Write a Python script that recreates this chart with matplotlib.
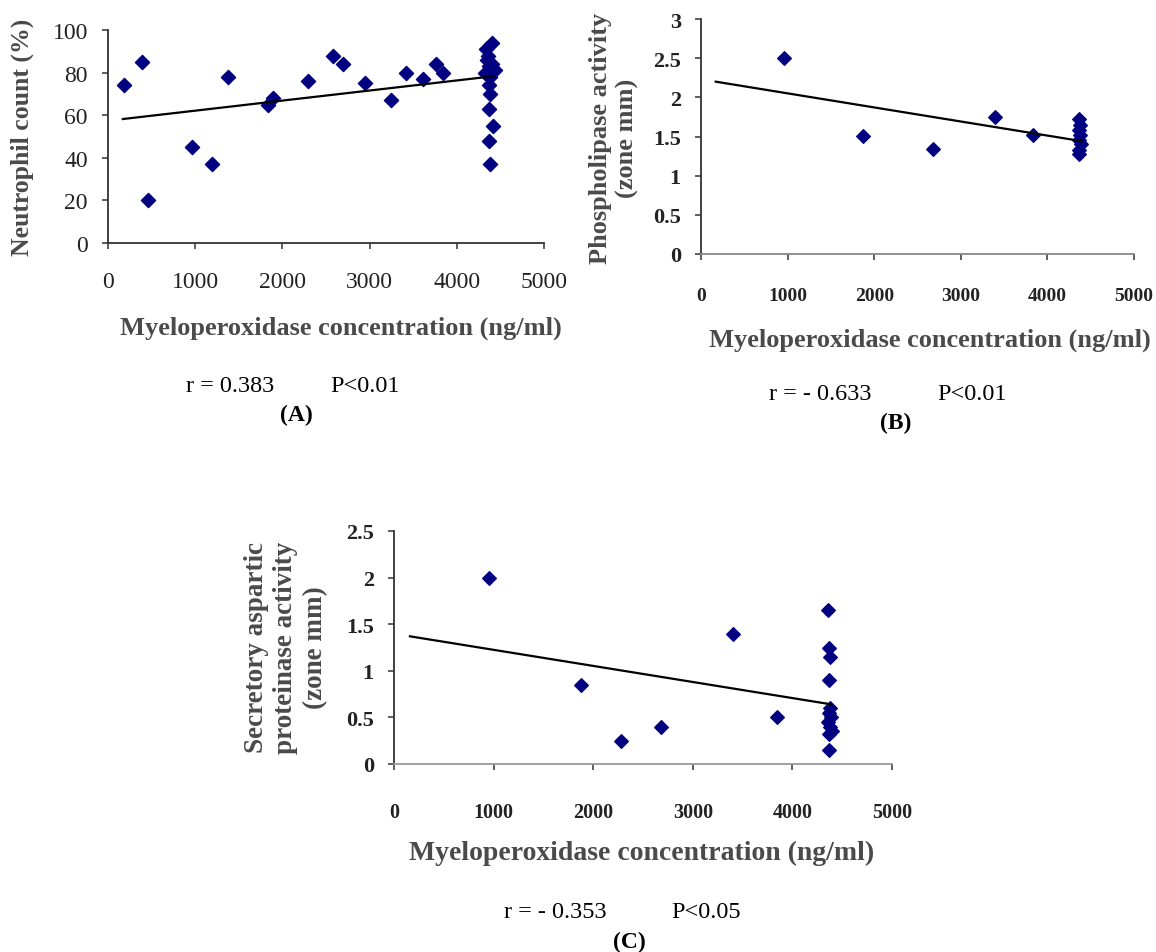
import matplotlib
matplotlib.use("Agg")
import matplotlib.pyplot as plt

W, H = 1156, 953
plt.rcParams["font.family"] = ["Liberation Serif", "DejaVu Serif"]

# ---- (A) neutrophil count vs MPO ----
a_mpo = [178, 394, 458, 962, 1195, 1377, 1830, 1894, 2288, 2585, 2699, 2945, 3250,
         3419, 3610, 3762, 3847,
         4400, 4330, 4360, 4350, 4400, 4370, 4320, 4440, 4380, 4370, 4380, 4370,
         4420, 4370, 4380]
a_neut = [74, 85, 20, 45, 37, 78, 65, 68, 76, 88, 84, 75, 67,
          80, 77, 84, 80,
          94, 91, 88, 86, 84, 83, 80, 81, 78, 74, 70, 63,
          55, 48, 37]
a_trend_x = [170, 4420]
a_trend_y = [58.2, 78.3]

# ---- (B) phospholipase activity vs MPO ----
b_mpo = [955, 1868, 2683, 3396, 3833,
         4370, 4380, 4360, 4375, 4365, 4385, 4370, 4360]
b_phos = [2.50, 1.51, 1.335, 1.75, 1.52,
          1.72, 1.65, 1.58, 1.52, 1.46, 1.40, 1.33, 1.28]
b_trend_x = [170, 4400]
b_trend_y = [2.20, 1.44]

# ---- (C) secretory aspartic proteinase vs MPO ----
c_mpo = [953, 1875, 2280, 2684, 3408, 3844,
         4360, 4370, 4380, 4365, 4380, 4370, 4390, 4360, 4375, 4400, 4365, 4370]
c_sap = [2.00, 0.85, 0.25, 0.40, 1.40, 0.50,
         1.65, 1.25, 1.15, 0.90, 0.60, 0.55, 0.50, 0.45, 0.40, 0.35, 0.32, 0.15]
c_trend_x = [160, 4390]
c_trend_y = [1.37, 0.64]

x_ticks = [0, 1000, 2000, 3000, 4000, 5000]
navy = "#000080"
label_grey = "#4a4a4a"


def px_axes(fig, left, top, right, bottom):
    return fig.add_axes([left / W, 1 - bottom / H, (right - left) / W, (bottom - top) / H])


def style(ax, ylim, yticks, ytl, xfs, yfs, tick_w, xcol, xpad):
    ax.set_xlim(0, 5000)
    ax.set_ylim(*ylim)
    ax.set_xticks(x_ticks)
    ax.set_yticks(yticks)
    ax.set_yticklabels(ytl)
    for s in ("top", "right"):
        ax.spines[s].set_visible(False)
    ax.spines["left"].set_color("#333333")
    ax.spines["bottom"].set_color(xcol)
    ax.spines["left"].set_linewidth(1.3)
    ax.spines["bottom"].set_linewidth(1.3)
    ax.tick_params(axis="both", direction="out", length=4.5, width=1.1, colors="#333333")
    ax.tick_params(axis="x", pad=xpad, labelsize=xfs)
    ax.tick_params(axis="y", pad=10, labelsize=yfs)
    for t in ax.get_xticklabels() + ax.get_yticklabels():
        t.set_fontweight(tick_w)
        t.set_color("#222222")
    ax.patch.set_alpha(0)


def ptext(x, y, s, **kw):
    fig.text(x / W, 1 - y / H, s, va="center", **kw)


fig = plt.figure(figsize=(W / 100, H / 100), dpi=100)

# A
ax = px_axes(fig, 108, 31, 544, 244)
ax.plot(a_trend_x, a_trend_y, color="black", lw=1.6, zorder=3)
ax.scatter(a_mpo, a_neut, marker="D", s=52, color=navy, zorder=2, clip_on=False)
style(ax, (0, 100), [0, 20, 40, 60, 80, 100], ["0", "20", "40", "60", "80", "100"],
      17, 17, "normal", "#333333", 16)
ptext(22, 137, "Neutrophil count (%)", fontsize=18.5, fontweight="bold", color=label_grey,
      ha="center", rotation=90)
ptext(341, 328, "Myeloperoxidase concentration (ng/ml)", fontsize=19,
      fontweight="bold", color=label_grey, ha="center")
ptext(186, 387, "r = 0.383", fontsize=17.5, ha="left")
ptext(330, 387, "P<0.01", fontsize=17.5, ha="left")
ptext(296, 415, "(A)", fontsize=17, fontweight="bold", ha="center")

# B
ax = px_axes(fig, 701, 20, 1134, 255)
ax.plot(b_trend_x, b_trend_y, color="black", lw=1.6, zorder=3)
ax.scatter(b_mpo, b_phos, marker="D", s=48, color=navy, zorder=2)
style(ax, (0, 3), [0, 0.5, 1, 1.5, 2, 2.5, 3], ["0", "0.5", "1", "1.5", "2", "2.5", "3"],
      14, 16, "bold", "#888888", 19)
ptext(614, 138, "Phospholipase activity\n(zone mm)", fontsize=19, fontweight="bold",
      color=label_grey, ha="center", rotation=90, linespacing=1.25, multialignment="center")
ptext(930, 340, "Myeloperoxidase concentration (ng/ml)", fontsize=19,
      fontweight="bold", color=label_grey, ha="center")
ptext(769, 395, "r = - 0.633", fontsize=17.5, ha="left")
ptext(937, 395, "P<0.01", fontsize=17.5, ha="left")
ptext(896, 423, "(B)", fontsize=17, fontweight="bold", ha="center")

# C
ax = px_axes(fig, 394, 532, 892, 765)
ax.plot(c_trend_x, c_trend_y, color="black", lw=1.6, zorder=3)
ax.scatter(c_mpo, c_sap, marker="D", s=48, color=navy, zorder=2)
style(ax, (0, 2.5), [0, 0.5, 1, 1.5, 2, 2.5], ["0", "0.5", "1", "1.5", "2", "2.5"],
      14.5, 16, "bold", "#999999", 23)
ptext(286, 648, "Secretory aspartic\nproteinase activity\n(zone mm)", fontsize=19.5,
      fontweight="bold", color=label_grey, ha="center", rotation=90, linespacing=1.25,
      multialignment="center")
ptext(642, 853, "Myeloperoxidase concentration (ng/ml)", fontsize=20,
      fontweight="bold", color=label_grey, ha="center")
ptext(504, 913, "r = - 0.353", fontsize=17.5, ha="left")
ptext(671, 913, "P<0.05", fontsize=17.5, ha="left")
ptext(629, 942, "(C)", fontsize=17, fontweight="bold", ha="center")

fig.savefig("out.png", dpi=100)
